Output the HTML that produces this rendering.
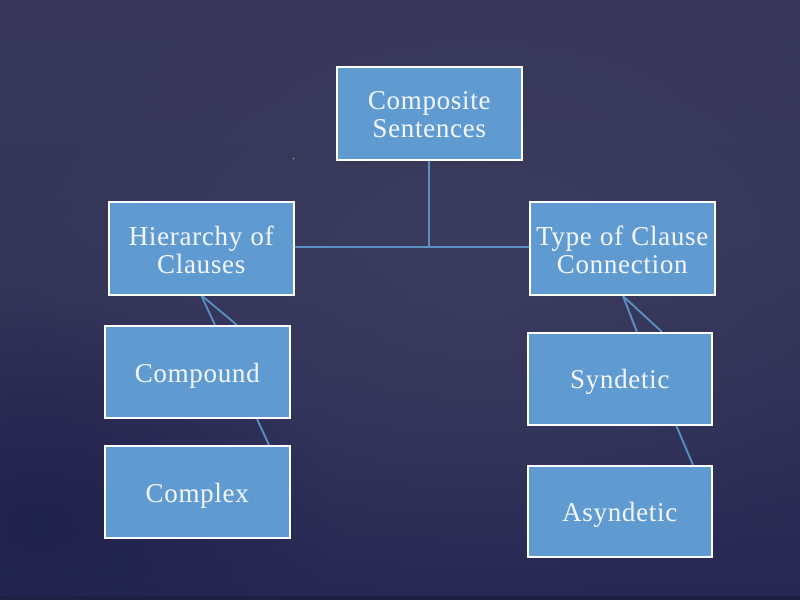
<!DOCTYPE html>
<html>
<head>
<meta charset="utf-8">
<style>
  html,body{margin:0;padding:0;}
  body{width:800px;height:600px;overflow:hidden;
    background:
      radial-gradient(ellipse 300px 220px at 40px 520px, rgba(28,30,75,0.7), rgba(28,30,75,0) 100%),
      radial-gradient(ellipse 450px 320px at 480px 280px, rgba(68,68,100,0.45), rgba(68,68,100,0) 100%),
      linear-gradient(180deg, #37365a 0%, #343558 40%, #2c2e56 75%, #262853 100%);
  }
  svg{display:block;}
  text{font-family:"Liberation Serif", serif; font-size:27px; fill:#f2f5ff; letter-spacing:0.7px;}
</style>
</head>
<body>
<svg width="800" height="600" viewBox="0 0 800 600" xmlns="http://www.w3.org/2000/svg">
  <rect x="0" y="596" width="800" height="4" fill="#1d1f45"/>
  <circle cx="293.5" cy="158.5" r="0.8" fill="#9aa0b8"/>
  <!-- connectors -->
  <g stroke="#5b90c2" stroke-width="2" fill="none">
    <line x1="429" y1="160" x2="429" y2="247"/>
    <line x1="294" y1="247" x2="529" y2="247"/>
    <line x1="201" y1="295" x2="215" y2="325"/>
    <line x1="201" y1="295" x2="237" y2="325"/>
    <line x1="623" y1="296" x2="637" y2="332"/>
    <line x1="623" y1="296" x2="662" y2="332"/>
    <line x1="257" y1="419" x2="269" y2="445"/>
    <line x1="676" y1="425" x2="693" y2="465"/>
  </g>
  <!-- boxes -->
  <g fill="#5f9bd1" stroke="#ffffff" stroke-width="2">
    <rect x="337" y="67" width="185" height="93"/>
    <rect x="109" y="202" width="185" height="93"/>
    <rect x="530" y="202" width="185" height="93"/>
    <rect x="105" y="326" width="185" height="92"/>
    <rect x="105" y="446" width="185" height="92"/>
    <rect x="528" y="333" width="184" height="92"/>
    <rect x="528" y="466" width="184" height="91"/>
  </g>
  <g text-anchor="middle">
    <text x="429.5" y="109">Composite</text>
    <text x="429.5" y="137">Sentences</text>
    <text x="201.5" y="245">Hierarchy of</text>
    <text x="201.5" y="273">Clauses</text>
    <text x="622.5" y="245">Type of Clause</text>
    <text x="622.5" y="273">Connection</text>
    <text x="197.5" y="382">Compound</text>
    <text x="197.5" y="502">Complex</text>
    <text x="620" y="388">Syndetic</text>
    <text x="620" y="521">Asyndetic</text>
  </g>
</svg>
</body>
</html>
